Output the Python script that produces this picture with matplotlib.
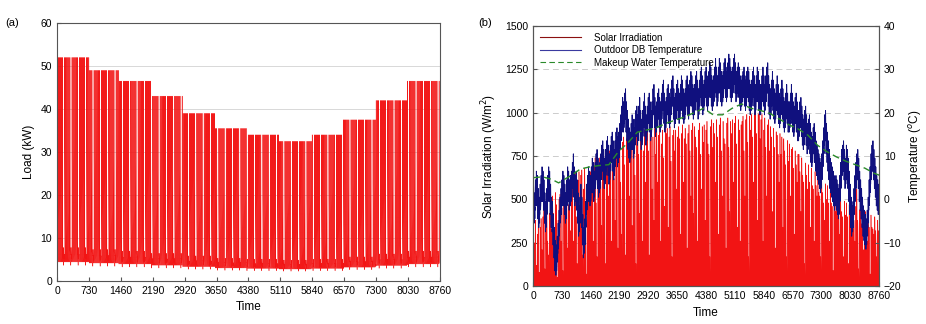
import numpy as np
import matplotlib
matplotlib.use("Agg")
import matplotlib.pyplot as plt
from matplotlib.lines import Line2D

plt.rcParams['font.family'] = ['Liberation Sans', 'DejaVu Sans']

# ---- data ----
month_days = [31, 28, 31, 30, 31, 30, 31, 31, 30, 31, 30, 31]
# (a) monthly peak load (kW)
monthly_peak = [52, 49, 46.5, 43, 39, 35.5, 34, 32.5, 34, 37.5, 42, 46.5]
# hourly load as fraction of the month peak
weekday_profile = [0.09, 0.085, 0.085, 0.085, 0.09, 0.1, 0.15, 1.0, 0.77, 0.6, 0.5, 0.45,
                   0.4, 0.4, 0.35, 0.3, 0.25, 0.2, 0.15, 0.14, 0.13, 0.12, 0.1, 0.09]
saturday_profile = [0.09, 0.085, 0.085, 0.085, 0.09, 0.1, 0.15, 1.0, 0.77, 0.4, 0.2, 0.15,
                    0.14, 0.13, 0.13, 0.12, 0.12, 0.12, 0.12, 0.12, 0.11, 0.1, 0.09, 0.09]
sunday_profile = [0.085, 0.08, 0.07, 0.07, 0.08, 0.09, 0.11, 0.14, 0.15, 0.14, 0.13, 0.12,
                  0.12, 0.11, 0.11, 0.1, 0.1, 0.1, 0.11, 0.12, 0.11, 0.1, 0.09, 0.085]

# (b) daily peak solar irradiation (W/m2), one value per day
solar_peak = [
    320, 250, 380, 120, 300, 420, 80, 340, 390, 210,
    400, 460, 100, 350, 480, 260, 180, 420, 500, 330,
    520, 420, 150, 540, 470, 50, 380, 500, 530, 260,
    450, 90, 500, 530, 380, 560, 220, 470, 540, 320,
    560, 630, 260, 590, 650, 400, 130, 610, 660, 450,
    640, 670, 180, 560, 680, 480, 70, 590, 660, 530,
    660, 540, 720, 260, 690, 740, 480, 170, 700, 620,
    740, 600, 350, 760, 780, 610, 130, 720, 790, 520,
    780, 800, 260, 700, 820, 620, 380, 810, 830, 220,
    820, 840, 600, 300, 830, 860, 700, 180, 850, 870,
    840, 520, 870, 880, 350, 800, 890, 640, 130, 880,
    890, 760, 420, 900, 830, 260, 780, 900, 600, 880,
    890, 780, 180, 880, 900, 560, 860, 380, 910, 760,
    900, 600, 870, 910, 260, 820, 900, 740, 460, 910,
    880, 910, 340, 860, 920, 720, 170, 870, 900, 780,
    900, 560, 860, 920, 850, 300, 880, 930, 600, 850,
    910, 820, 220, 880, 930, 780, 520, 900, 940, 420,
    920, 860, 800, 260, 900, 940, 760, 560, 920, 830,
    930, 380, 900, 950, 820, 760, 170, 920, 960, 800,
    940, 880, 600, 960, 860, 300, 930, 970, 780, 520,
    950, 850, 820, 220, 940, 970, 800, 430, 950, 880,
    960, 600, 940, 980, 820, 340, 960, 900, 260, 930,
    950, 980, 780, 520, 960, 990, 830, 170, 980, 900,
    990, 860, 600, 1000, 1010, 880, 380, 990, 1000, 850,
    960, 990, 260, 900, 970, 800, 520, 930, 960, 780,
    920, 860, 430, 910, 800, 220, 890, 870, 760, 600,
    880, 760, 860, 340, 850, 780, 700, 170, 840, 720,
    820, 520, 790, 800, 680, 300, 780, 700, 600, 760,
    760, 660, 430, 740, 640, 600, 130, 710, 640, 560,
    700, 600, 340, 680, 580, 560, 260, 660, 580, 520,
    640, 540, 520, 170, 620, 540, 480, 380, 590, 500,
    580, 480, 260, 560, 480, 460, 90, 550, 470, 430,
    530, 440, 500, 300, 500, 430, 400, 170, 490, 410,
    480, 400, 130, 470, 400, 380, 340, 460, 380, 260,
    460, 560, 380, 100, 440, 530, 360, 350, 210, 430,
    430, 360, 260, 400, 340, 70, 410, 340, 330, 300,
    400, 320, 170, 380, 320,
]
solar_shape = [0, 0, 0, 0, 0, 0, 0.05, 0.2, 0.42, 0.63, 0.8, 0.93,
               1.0, 0.95, 0.82, 0.65, 0.45, 0.24, 0.07, 0, 0, 0, 0, 0]

# daily mean outdoor dry-bulb temperature (C), one value per day
temp_mean = [
    0, -2, 1, 3, 2, -1, -3, 0, 2, 4,
    3, 1, -2, -4, -1, 2, 4, 3, 0, -3,
    -4, -7, -10, -13, -14, -12, -9, -6, -3, -1,
    1, 3, 2, 0, -2, 1, 4, 3, 1, 2,
    3, 5, 7, 4, 2, 3, 1, -2, -5, -3,
    0, -3, -7, -10, -8, -4, 0, 2, 4, 3,
    2, 4, 6, 5, 3, 5, 7, 8, 6, 4,
    5, 7, 9, 10, 8, 6, 8, 10, 11, 9,
    7, 9, 11, 12, 10, 8, 10, 12, 13, 11,
    12, 14, 16, 18, 20, 19, 21, 22, 19, 17,
    15, 13, 12, 14, 16, 15, 13, 15, 17, 18,
    16, 18, 20, 17, 15, 17, 19, 21, 18, 16,
    18, 20, 21, 19, 17, 19, 22, 23, 20, 18,
    19, 21, 22, 20, 19, 21, 23, 24, 21, 19,
    20, 22, 23, 21, 20, 22, 24, 25, 22, 20,
    21, 23, 24, 22, 21, 23, 25, 24, 22, 21,
    22, 24, 25, 23, 22, 24, 26, 25, 23, 22,
    23, 25, 26, 24, 22, 24, 26, 27, 25, 23,
    24, 26, 27, 25, 24, 26, 28, 27, 25, 24,
    25, 27, 29, 27, 25, 27, 29, 28, 26, 25,
    26, 28, 29, 27, 26, 28, 30, 29, 27, 26,
    27, 29, 30, 28, 26, 27, 28, 27, 25, 24,
    25, 26, 27, 25, 24, 26, 27, 26, 24, 23,
    24, 26, 27, 25, 23, 25, 27, 26, 24, 23,
    23, 25, 27, 25, 23, 25, 27, 28, 25, 23,
    22, 24, 26, 24, 22, 21, 23, 25, 23, 21,
    20, 22, 24, 22, 20, 19, 21, 23, 21, 19,
    19, 21, 23, 21, 19, 18, 20, 21, 19, 17,
    17, 19, 20, 18, 16, 15, 17, 18, 16, 14,
    15, 16, 14, 12, 11, 13, 14, 12, 10, 9,
    8, 7, 6, 5, 7, 10, 13, 16, 17, 14,
    12, 10, 8, 6, 5, 4, 3, 2, 1, 2,
    1, 0, -1, 2, 5, 8, 9, 10, 8, 6,
    9, 8, 6, 3, 0, -3, -5, -4, -1, 2,
    5, 7, 8, 6, 3, 1, -1, -3, -5, -6,
    -7, -8, -6, -3, 1, 4, 7, 9, 10, 8,
    6, 4, 2, 1, 0,
]
temp_diurnal = [-0.8, -0.9, -1, -1, -0.95, -0.85, -0.6, -0.3, 0, 0.3, 0.6, 0.8,
                0.95, 1, 0.95, 0.8, 0.6, 0.4, 0.2, 0, -0.2, -0.4, -0.55, -0.7]
temp_swing = 3.5

# makeup water temperature (C), every 10 days
water_day = [0, 10, 20, 27, 30, 40, 50, 60, 70, 80, 90, 100, 110, 120, 130, 140, 150, 160,
             170, 180, 190, 200, 210, 220, 230, 240, 250, 260, 270, 280, 290, 300, 310,
             320, 330, 340, 350, 360, 365]
water_temp = [5.0, 5.2, 4.6, 3.8, 4.2, 5.5, 7.0, 7.5, 7.8, 8.0, 11.0, 13.0, 15.5, 16.0,
              16.5, 17.5, 18.3, 19.0, 20.0, 21.0, 19.5, 19.5, 21.0, 22.0, 21.0, 20.5,
              19.8, 18.5, 17.2, 16.2, 14.8, 12.5, 11.0, 9.8, 8.8, 8.0, 7.2, 6.0, 5.6]

xticks = [0, 730, 1460, 2190, 2920, 3650, 4380, 5110, 5840, 6570, 7300, 8030, 8760]

# ---- build hourly series ----
load = []
doy = 0
for peak, nd in zip(monthly_peak, month_days):
    for d in range(nd):
        wd = doy % 7
        if wd == 6:
            prof = sunday_profile
        elif wd == 5:
            prof = saturday_profile
        else:
            prof = weekday_profile
        load.extend([peak * f for f in prof])
        doy += 1
load = np.array(load)
hours = np.arange(len(load))

solar = np.concatenate([np.array(solar_shape) * p for p in solar_peak])
temp = np.concatenate([m + temp_swing * np.array(temp_diurnal) for m in temp_mean])
h_b = np.arange(len(solar))

fs = 7.5
red = '#f21414'

fig = plt.figure(figsize=(9.26, 3.24), dpi=100)

# ---- (a) ----
ax = fig.add_axes([0.0616, 0.1327, 0.4134, 0.7963])
ax.yaxis.grid(True, color='#d8d8d8', lw=0.7)
ax.set_axisbelow(True)
ax.plot(hours, load, color=red, lw=0.35)
ax.set_xlim(0, 8760)
ax.set_ylim(0, 60)
ax.set_xticks(xticks)
ax.set_yticks(range(0, 61, 10))
ax.tick_params(direction='in', labelsize=fs, length=3, color='#555555')
ax.set_xlabel('Time', fontsize=8.5)
ax.set_ylabel('Load (kW)', fontsize=8.5)
for s in ax.spines.values():
    s.set_color('#555555')
    s.set_linewidth(0.8)
fig.text(0.006, 0.92, '(a)', fontsize=8)

# ---- (b) ----
bx = fig.add_axes([0.5756, 0.117, 0.3737, 0.803])
bx.yaxis.grid(True, color='#cccccc', lw=0.7, ls=(0, (6, 4)))
bx.set_axisbelow(True)
bx.fill_between(h_b, 0, solar, color=red, lw=0)
bx.plot(h_b, solar, color=red, lw=0.4)
bx.set_xlim(0, 8760)
bx.set_ylim(0, 1500)
bx.set_xticks(xticks)
bx.set_yticks(range(0, 1501, 250))
bx.tick_params(direction='in', labelsize=fs, length=3, color='#555555')
bx.set_xlabel('Time', fontsize=8.5)
bx.set_ylabel('Solar Irradiation (W/m$^2$)', fontsize=8.5)

tx = bx.twinx()
tx.plot(h_b, temp, color='#10107e', lw=0.65)
tx.plot(np.array(water_day) * 24, water_temp, color='#2a8a2a', lw=1.0, ls=(0, (5, 3)))
tx.set_ylim(-20, 40)
tx.set_yticks(range(-20, 41, 10))
tx.tick_params(direction='in', labelsize=fs, length=3, color='#555555')
tx.set_ylabel('Temperature ($^{o}$C)', fontsize=8.5)
for a in (bx, tx):
    for s in a.spines.values():
        s.set_color('#555555')
        s.set_linewidth(0.8)
fig.text(0.516, 0.92, '(b)', fontsize=8)

handles = [Line2D([], [], color='#8b1010', lw=0.8),
           Line2D([], [], color='#3a3aa0', lw=0.8),
           Line2D([], [], color='#2a8a2a', lw=0.8, ls=(0, (5, 3)))]
tx.legend(handles, ['Solar Irradiation', 'Outdoor DB Temperature', 'Makeup Water Temperature'],
          loc='upper left', frameon=False, fontsize=7, handlelength=4.2, labelspacing=0.25,
          borderaxespad=0.3, handletextpad=1.4)

fig.savefig('out.png', dpi=100)
